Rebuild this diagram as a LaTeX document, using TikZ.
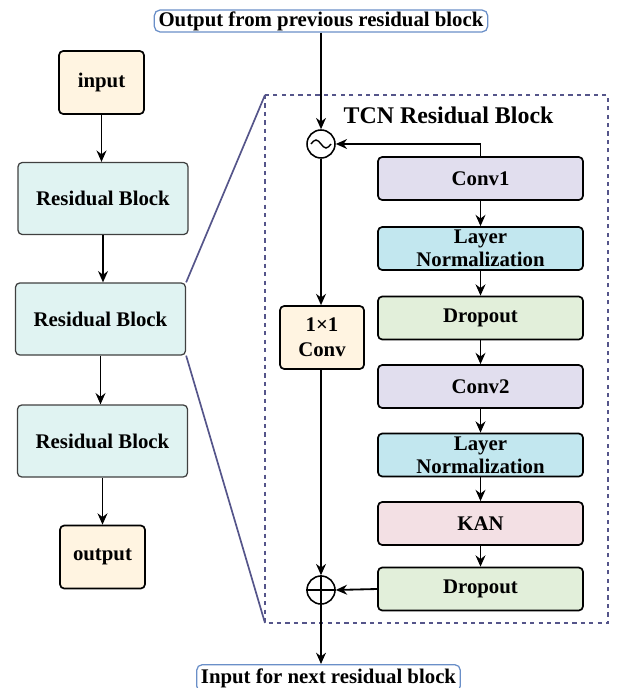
\documentclass[tikz,border=0pt]{standalone}
\usepackage{fontspec}
\setmainfont{Liberation Serif}
\usepackage{xcolor}
\usepackage{tikz}
\usetikzlibrary{calc,arrows.meta}
\tikzset{>={Stealth[length=8pt,width=7pt]}}

\definecolor{creamfill}{HTML}{FFF4E1}
\definecolor{blockfill}{HTML}{E0F3F2}
\definecolor{convfill}{HTML}{E1DEEE}
\definecolor{normfill}{HTML}{C2E7EF}
\definecolor{dropfill}{HTML}{E2EFDA}
\definecolor{kanfill}{HTML}{F3E0E4}
\definecolor{framecol}{HTML}{55558A}
\definecolor{tagline}{HTML}{6A8FC8}

\tikzset{
  box/.style={draw, line width=1.2pt, rounded corners=3pt, align=center,
    font=\fontsize{14.8}{16.5}\selectfont\bfseries, inner sep=1pt},
  iobox/.style={box, fill=creamfill, minimum width=85*0.025cm, minimum height=63*0.025cm},
  resbox/.style={box, fill=blockfill, draw=black!75, line width=0.9pt,
    minimum width=170*0.025cm, minimum height=72*0.025cm},
  layerbox/.style={box, minimum width=205*0.025cm, minimum height=43*0.025cm},
  tagbox/.style={box, draw=tagline, line width=0.9pt, fill=white, rounded corners=4pt,
    inner xsep=3pt},
  opnode/.style={draw, circle, line width=1.1pt, minimum size=28*0.025cm, inner sep=0pt},
  arr/.style={->, line width=1.3pt},
}

\begin{document}
\begin{tikzpicture}[x=0.025cm, y=-0.025cm]
  \useasboundingbox (0,0) rectangle (625,688);

  % left column
  \node[iobox] (input) at (101.5,82.5) {input};
  \node[resbox] (rb1) at (103,198.5) {Residual Block};
  \node[resbox] (rb2) at (100.5,319) {Residual Block};
  \node[resbox] (rb3) at (102.5,441) {Residual Block};
  \node[iobox] (output) at (102.5,557) {output};

  \draw[arr] (input.south) -- (input.south |- rb1.north);
  \draw[arr] (rb1.south) -- (rb1.south |- rb2.north);
  \draw[arr] (rb2.south) -- (rb2.south |- rb3.north);
  \draw[arr] (rb3.south) -- (rb3.south |- output.north);

  % the zoomed block
  \coordinate (frameNW) at (265,95);
  \coordinate (frameSE) at (608,623);
  \coordinate (frameSW) at (265,623);
  \draw[framecol, dashed, line width=1.2pt] (frameNW) rectangle (frameSE);
  \draw[framecol, line width=1.2pt] (rb2.north east) -- (frameNW);
  \draw[framecol, line width=1.2pt] (rb2.south east) -- (frameSW);
  \node[font=\fontsize{17}{18}\selectfont\bfseries] (title) at (448.5,115) {TCN Residual Block};

  \node[tagbox] (prev) at (321,21) {Output from previous residual block};
  \node[tagbox, minimum height=27*0.025cm, anchor=north] (next) at (328.5,664) {Input for next residual block};

  \node[layerbox, fill=convfill] (conv1) at (480.5,178.5) {Conv1};
  \node[layerbox, fill=normfill] (ln1) at (480.5,248.5) {Layer\\Normalization};
  \node[layerbox, fill=dropfill] (drop1) at (480.5,318) {Dropout};
  \node[layerbox, fill=convfill] (conv2) at (480.5,386.5) {Conv2};
  \node[layerbox, fill=normfill] (ln2) at (480.5,455) {Layer\\Normalization};
  \node[layerbox, fill=kanfill] (kan) at (480.5,523.5) {KAN};
  \node[layerbox, fill=dropfill] (drop2) at (480.5,589) {Dropout};

  \node[iobox, minimum width=84*0.025cm] (conv11) at (322,337.5) {1×1\\[1pt]Conv};

  \node[opnode] (mix) at (321,144) {};
  \draw[line width=1pt] ($(mix.center)+(-10,0)$) sin ++(5,-4) cos ++(5,4) sin ++(5,4) cos ++(5,-4);
  \node[opnode] (sum) at (321,590) {};
  \draw[line width=1pt] (sum.west) -- (sum.east);
  \draw[line width=1pt] (sum.north) -- (sum.south);

  \draw[arr] (conv1.south) -- (ln1.north);
  \draw[arr] (ln1.south) -- (drop1.north);
  \draw[arr] (drop1.south) -- (conv2.north);
  \draw[arr] (conv2.south) -- (ln2.north);
  \draw[arr] (ln2.south) -- (kan.north);
  \draw[arr] (kan.south) -- (drop2.north);

  \draw[arr] (prev.south) -- (mix.north);
  \draw[arr] (conv1.north) |- (mix.east);
  \draw[arr] (mix.south) -- (mix.south |- conv11.north);
  \draw[arr] (conv11.south) -- (conv11.south -| sum.north) -- (sum.north);
  \draw[arr] (drop2.west) -- (sum.east);
  \draw[arr] (sum.south) -- (sum.south |- next.north);

\end{tikzpicture}
\end{document}
